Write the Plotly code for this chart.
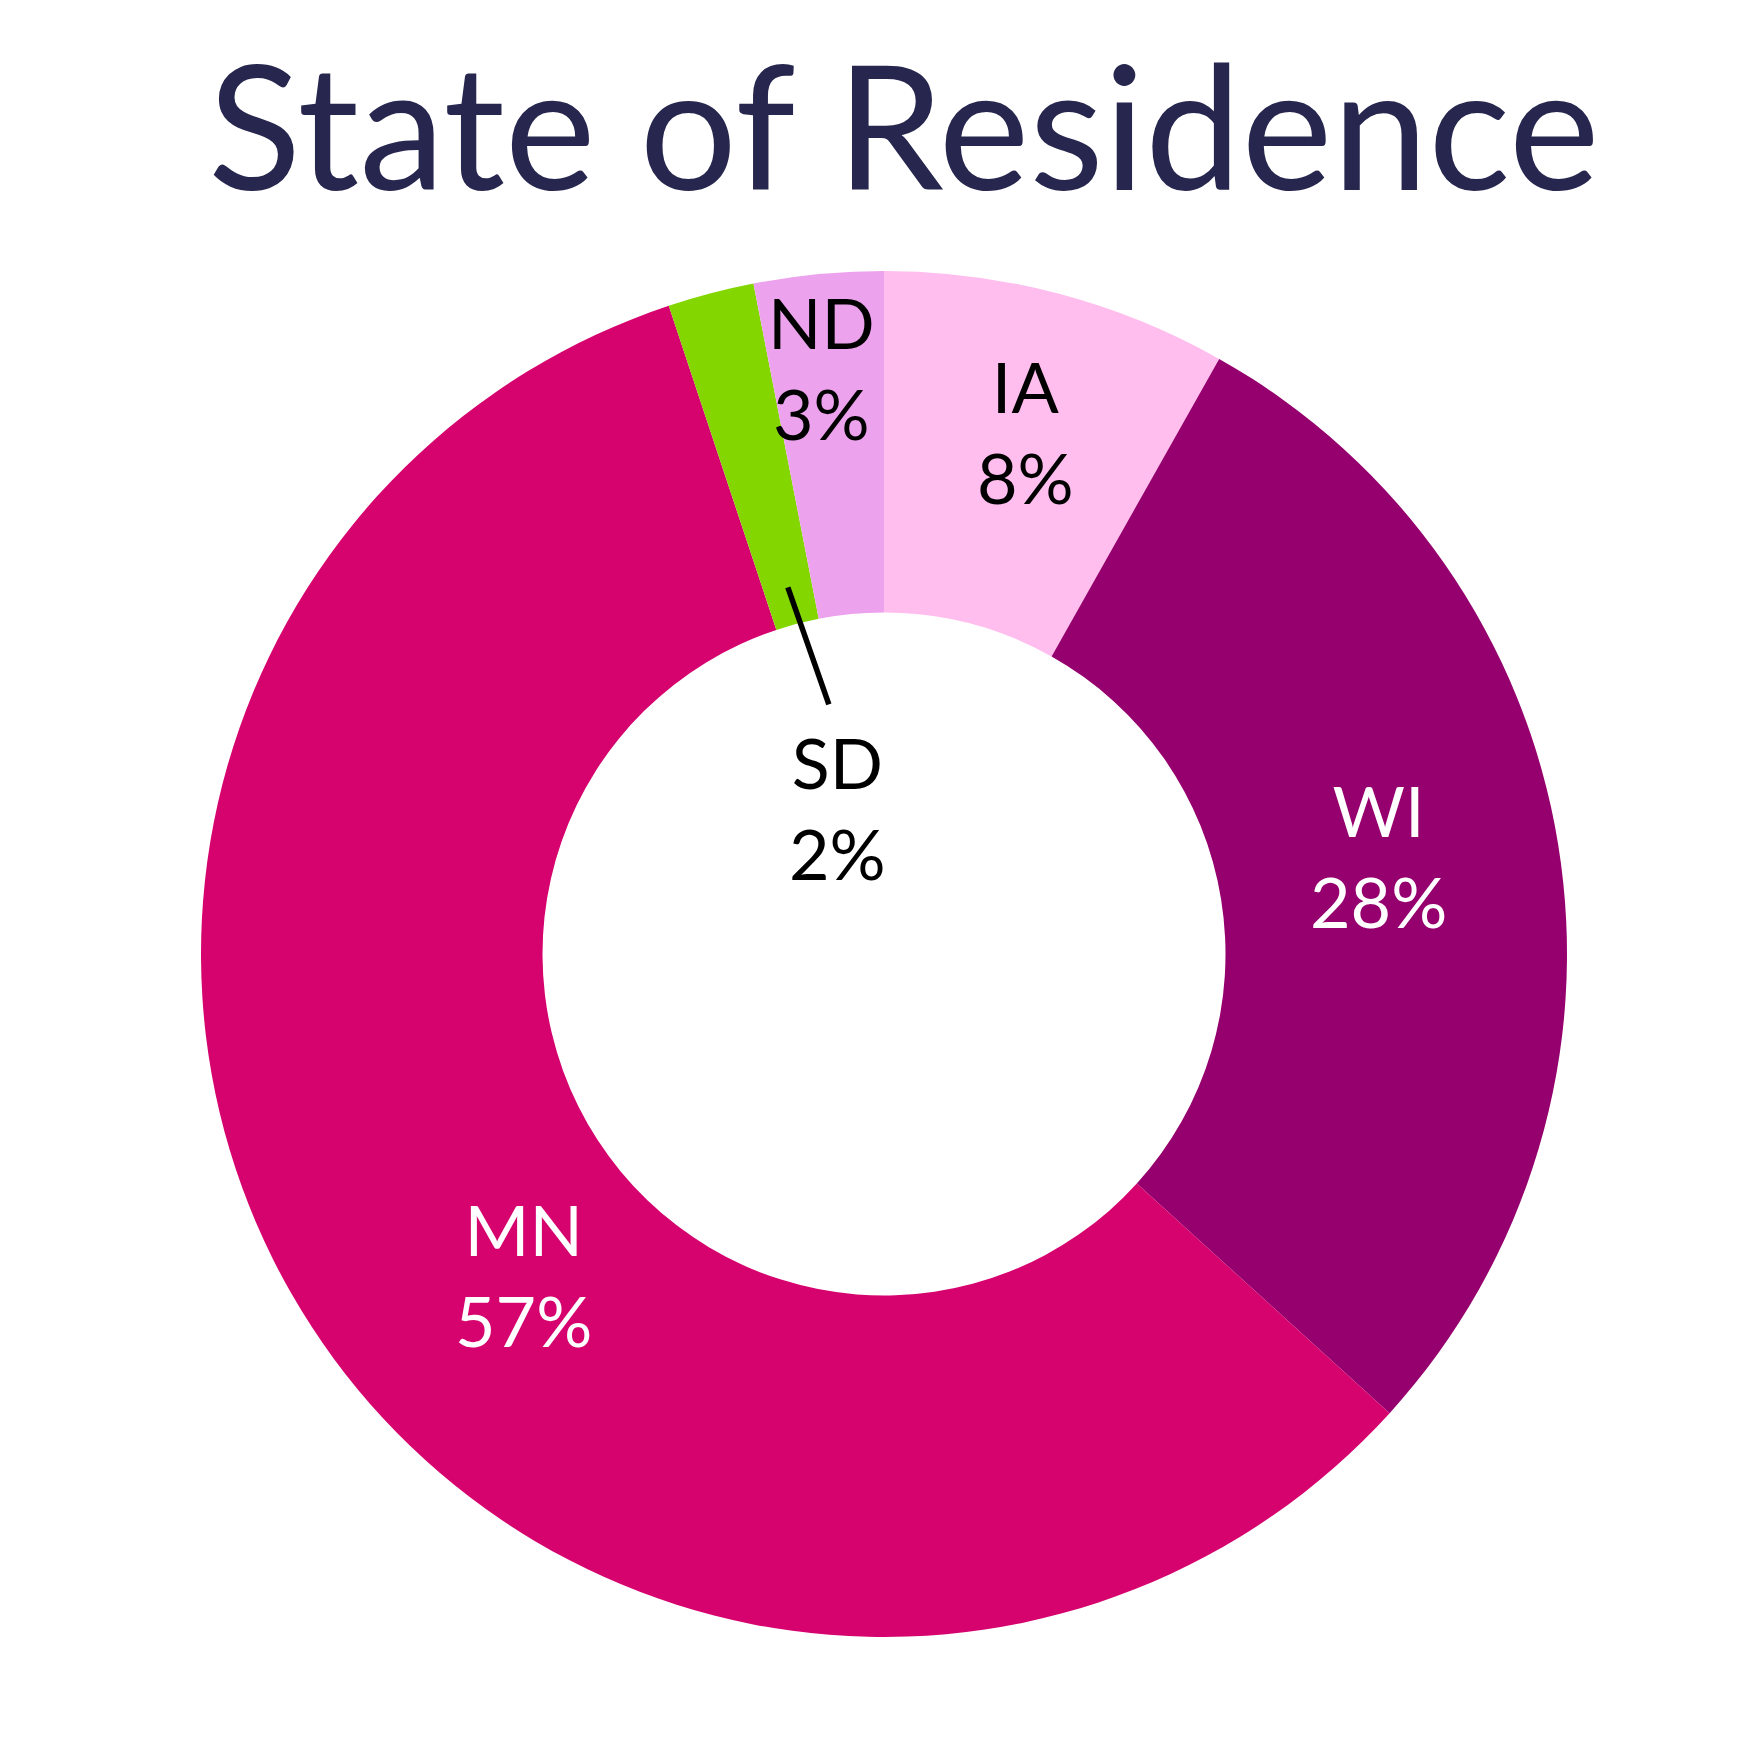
import math
import plotly.graph_objects as go

# ---- data ----
states = ["IA", "WI", "MN", "SD", "ND"]
shares = [8, 28, 57, 2, 3]          # percent values shown on labels
colors = ["#FFBEEE", "#96006E", "#D6036F", "#84D600", "#EDA2EE"]
text_colors = ["#000000", "#FFFFFF", "#FFFFFF", "#000000", "#000000"]

FONT = "Lato"
W = H = 1755
ML, MR, MT, MB = 201, 188, 271, 118
PLOT = W - ML - MR            # square plotting area (px)
HOLE = 0.5
LABEL_SIZE = 70

# label placement (style): radius as fraction of outer radius, angle nudge in degrees
label_radius = {"IA": 0.793, "WI": 0.739, "MN": 0.706, "ND": 0.863}
label_nudge = {"IA": 0.4, "WI": -2.1, "MN": -8.6, "ND": -0.6}

fig = go.Figure(go.Pie(
    labels=states,
    values=shares,
    sort=False,
    direction="clockwise",
    rotation=0,
    hole=HOLE,
    marker=dict(colors=colors, line=dict(width=0)),
    textinfo="none",
    showlegend=False,
    hoverinfo="label+value",
))

total = sum(shares)
cum = 0
mids = {}
for s, v in zip(states, shares):
    mids[s] = (cum + v / 2) / total * 360.0
    cum += v


def polar_to_paper(theta_deg, frac):
    t = math.radians(theta_deg)
    return 0.5 + 0.5 * frac * math.sin(t), 0.5 + 0.5 * frac * math.cos(t)


for i, s in enumerate(states):
    if s == "SD":
        continue
    x, y = polar_to_paper(mids[s] + label_nudge[s], label_radius[s])
    fig.add_annotation(
        x=x, y=y, xref="paper", yref="paper",
        text=f"{s}<br>{shares[i]}%",
        showarrow=False,
        font=dict(family=FONT, size=LABEL_SIZE, color=text_colors[i]),
        xanchor="center", yanchor="middle",
    )

# SD: leader line from the slice into the hole, label below it
sd_i = states.index("SD")
x0, y0 = polar_to_paper(mids["SD"], 0.555)
x1, y1 = x0 + 41 / PLOT, y0 - 117 / PLOT
fig.add_shape(type="line", xref="paper", yref="paper",
              x0=x0, y0=y0, x1=x1, y1=y1,
              line=dict(color="#000000", width=5.5))
fig.add_annotation(
    x=x0 + 50 / PLOT, y=y0 - 220 / PLOT, xref="paper", yref="paper",
    text=f"{states[sd_i]}<br>{shares[sd_i]}%",
    showarrow=False,
    font=dict(family=FONT, size=LABEL_SIZE, color=text_colors[sd_i]),
    xanchor="center", yanchor="middle",
)

fig.update_layout(
    width=W, height=H,
    margin=dict(l=ML, r=MR, t=MT, b=MB),
    paper_bgcolor="white", plot_bgcolor="white",
    title=dict(
        text="State of Residence",
        font=dict(family=FONT, size=172, color="#26264E"),
        x=0.515, xanchor="center", xref="container",
        y=1 - 130 / H, yanchor="middle", yref="container",
    ),
)

fig.write_html("out.html")
